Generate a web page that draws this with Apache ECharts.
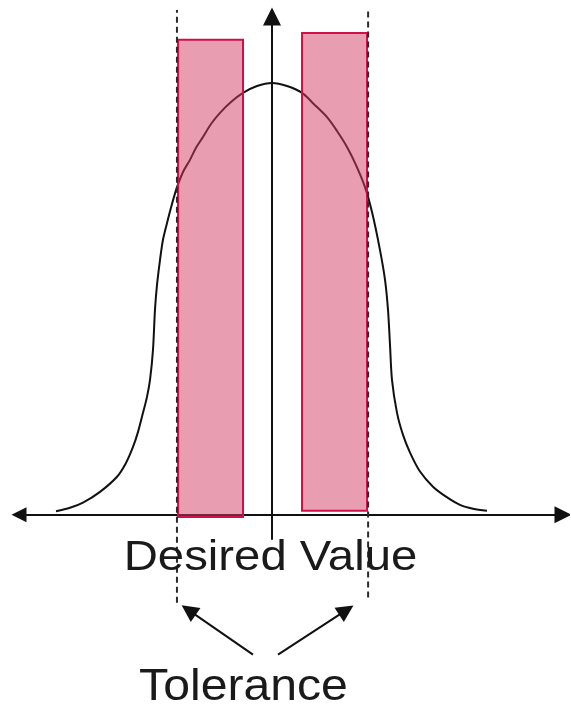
<!DOCTYPE html>
<html>
<head>
<meta charset="utf-8">
<script src="https://cdn.jsdelivr.net/npm/echarts@6/dist/echarts.min.js"></script>
<style>
html,body{margin:0;padding:0;background:#fff;}
#chart{width:571px;height:710px;}
</style>
</head>
<body>
<div id="chart"></div>
<script>
// Bell curve (x in sigma units, y relative to peak)
const curveX = [-4.0,-3.741,-3.5,-3.185,-2.87,-2.704,-2.574,-2.481,-2.389,-2.315,-2.259,-2.204,-2.167,-2.13,-2.074,-2.019,-1.944,-1.852,-1.759,-1.648,-1.519,-1.407,-1.278,-1.13,-0.963,-0.759,-0.537,-0.278,0,
                0.278,0.556,0.778,1.019,1.204,1.389,1.556,1.722,1.852,2.0,2.093,2.148,2.185,2.222,2.315,2.426,2.556,2.741,2.981,3.222,3.481,3.722,3.981];
const curveY = [0.008,0.016,0.028,0.053,0.088,0.12,0.157,0.192,0.236,0.273,0.3125,0.382,0.475,0.532,0.59,0.637,0.676,0.72,0.759,0.794,0.822,0.85,0.875,0.905,0.931,0.956,0.977,0.993,1.0,
                0.993,0.977,0.951,0.921,0.889,0.852,0.81,0.759,0.701,0.613,0.544,0.475,0.394,0.3125,0.236,0.185,0.144,0.1,0.065,0.042,0.023,0.014,0.009];

// Two bars (rectangles)
const rectLeft   = [-1.74, 0.556];
const rectRight  = [-0.537, 1.76];
const rectTop    = [1.10, 1.116];
const rectBottom = [-0.005, 0.009];

// Tolerance limits (dashed lines)
const tolX      = [-1.76, 1.78];
const tolTop    = [1.169, 1.174];
const tolBottom = [-0.204, -0.192];

// Axes
const vAxisLine = [[0, -0.058], [0, 1.154]];
const hAxisLine = [[-4.685, 0], [5.389, 0]];

// Tolerance pointer arrows
const tolArrowFrom = [[-0.352, -0.324], [0.111, -0.324]];
const tolArrowTo   = [[-1.544, -0.221], [1.376, -0.221]];

const labels = ['Desired Value', 'Tolerance'];

const chart = echarts.init(document.getElementById('chart'), null, {renderer: 'canvas'});

const curveData = curveX.map((x, i) => [x, curveY[i]]);
const rectData = rectLeft.map((x, i) => [x, rectRight[i], rectBottom[i], rectTop[i]]);

const tolSeries = tolX.map((x, i) => ({
  type: 'line',
  data: [[x, tolBottom[i]], [x, tolTop[i]]],
  symbol: 'none',
  silent: true,
  z: 5,
  lineStyle: {color: '#2a2a2a', width: 2, type: [6, 4]}
}));

const option = {
  animation: false,
  backgroundColor: '#ffffff',
  grid: {left: 2, right: 2, top: 1, bottom: 1, containLabel: false},
  xAxis: {type: 'value', min: -5, max: 5.5, show: false},
  yAxis: {type: 'value', min: -0.45, max: 1.19, show: false},
  series: [
    {
      type: 'line',
      data: curveData,
      smooth: 0.3,
      symbol: 'none',
      z: 2,
      lineStyle: {color: '#111111', width: 2}
    },
    {
      type: 'lines',
      coordinateSystem: 'cartesian2d',
      z: 2,
      symbol: ['none', 'triangle'],
      symbolSize: [16, 18],
      lineStyle: {color: '#111111', width: 2, opacity: 1},
      data: [{coords: vAxisLine}]
    },
    {
      type: 'lines',
      coordinateSystem: 'cartesian2d',
      z: 2,
      symbol: ['triangle', 'triangle'],
      symbolSize: [15, 17],
      lineStyle: {color: '#111111', width: 2, opacity: 1},
      data: [{coords: hAxisLine}]
    },
    {
      type: 'custom',
      z: 3,
      data: rectData,
      renderItem: function (params, api) {
        const p0 = api.coord([api.value(0), api.value(3)]);
        const p1 = api.coord([api.value(1), api.value(2)]);
        return {
          type: 'rect',
          shape: {x: p0[0], y: p0[1], width: p1[0] - p0[0], height: p1[1] - p0[1]},
          style: {fill: 'rgba(210,60,100,0.5)', stroke: '#d0104a', lineWidth: 2}
        };
      }
    },
    ...tolSeries,
    {
      type: 'lines',
      coordinateSystem: 'cartesian2d',
      z: 4,
      symbol: ['none', 'triangle'],
      symbolSize: [14, 17],
      lineStyle: {color: '#111111', width: 2, opacity: 1},
      data: tolArrowFrom.map((f, i) => ({coords: [f, tolArrowTo[i]]}))
    }
  ],
  graphic: [
    {
      type: 'text',
      x: 270.5, y: 558,
      scaleX: 1.1,
      z: 10,
      style: {
        text: labels[0],
        fill: '#1a1a1a',
        font: '43px "Liberation Sans", Arial, sans-serif',
        align: 'center',
        verticalAlign: 'middle'
      }
    },
    {
      type: 'text',
      x: 243.5, y: 688,
      scaleX: 1.07,
      z: 10,
      style: {
        text: labels[1],
        fill: '#1a1a1a',
        font: '45px "Liberation Sans", Arial, sans-serif',
        align: 'center',
        verticalAlign: 'middle'
      }
    }
  ]
};

chart.setOption(option);
</script>
</body>
</html>
